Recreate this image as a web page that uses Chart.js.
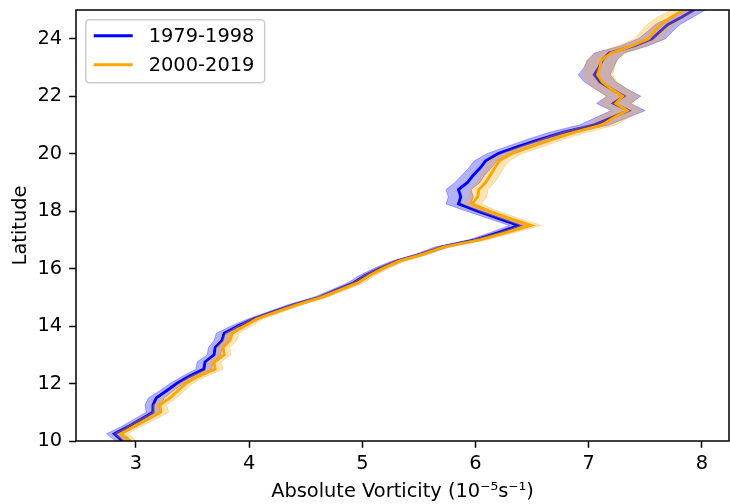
<!DOCTYPE html>
<html>
<head>
<meta charset="utf-8">
<script src="https://cdn.jsdelivr.net/npm/chart.js@4.4.1/dist/chart.umd.min.js"></script>
<style>
  html, body { margin: 0; padding: 0; background: #ffffff; }
  #wrap { width: 730px; height: 504px; }
</style>
</head>
<body>
<div id="wrap"><canvas id="c" width="730" height="504"></canvas></div>
<script>
// ---------------- data ----------------
const latitudes = [10,10.25,10.5,10.75,11,11.25,11.5,11.75,12,12.25,12.5,12.75,13,13.25,13.5,13.75,
  14,14.25,14.5,14.75,15,15.25,15.5,15.75,16,16.25,16.5,16.75,17,17.25,
  17.5,17.75,18,18.25,18.5,18.75,19,19.25,19.5,19.75,20,20.25,20.5,20.75,
  21,21.25,21.5,21.75,22,22.25,22.5,22.75,23,23.25,23.5,23.75,24,24.25,24.5,24.75,25];

const vort1979_1998 = [2.88,2.81,2.93,3.04,3.15,3.15,3.18,3.27,3.36,3.47,3.60,3.61,3.69,3.70,3.76,3.78,
  3.90,4.04,4.22,4.40,4.62,4.77,4.92,5.02,5.15,5.30,5.52,5.70,6.00,6.20,
  6.38,6.20,6.02,5.85,5.87,5.85,5.93,5.98,6.04,6.09,6.20,6.38,6.57,6.78,
  7.05,7.20,7.35,7.22,7.31,7.20,7.10,7.05,7.09,7.12,7.18,7.40,7.56,7.63,7.70,7.82,7.93];

const vort2000_2019 = [2.95,2.87,2.98,3.10,3.22,3.21,3.30,3.37,3.44,3.55,3.70,3.69,3.78,3.77,3.83,3.85,
  3.96,4.07,4.25,4.43,4.64,4.80,4.96,5.06,5.18,5.32,5.54,5.72,6.04,6.27,
  6.49,6.30,6.12,5.97,6.02,6.03,6.09,6.13,6.17,6.21,6.32,6.50,6.68,6.88,
  7.12,7.22,7.34,7.24,7.30,7.20,7.12,7.08,7.10,7.11,7.20,7.38,7.53,7.58,7.64,7.73,7.84];

// half-width of the shaded spread around each mean profile
const spread1979_1998 = [0.06,0.07,0.06,0.06,0.06,0.07,0.07,0.06,0.06,0.06,0.07,0.07,0.06,0.06,0.07,0.07,
  0.06,0.05,0.05,0.05,0.05,0.05,0.05,0.05,0.05,0.05,0.05,0.06,0.06,0.07,
  0.08,0.09,0.10,0.11,0.11,0.11,0.11,0.10,0.10,0.10,0.10,0.10,0.11,0.12,
  0.13,0.14,0.15,0.15,0.15,0.14,0.14,0.14,0.13,0.13,0.13,0.12,0.12,0.11,0.11,0.10,0.10];

const spread2000_2019 = [0.06,0.06,0.06,0.07,0.07,0.06,0.06,0.06,0.06,0.07,0.07,0.06,0.06,0.06,0.06,0.06,
  0.06,0.05,0.05,0.05,0.05,0.05,0.05,0.05,0.05,0.05,0.05,0.05,0.06,0.07,
  0.09,0.08,0.08,0.08,0.08,0.08,0.08,0.08,0.08,0.09,0.09,0.10,0.10,0.11,
  0.12,0.13,0.13,0.14,0.14,0.14,0.13,0.13,0.13,0.13,0.13,0.12,0.12,0.12,0.12,0.12,0.11];

const seriesLabels = ['1979-1998', '2000-2019'];
const xTickValues = [3, 4, 5, 6, 7, 8];
const yTickValues = [10, 12, 14, 16, 18, 20, 22, 24];
const xAxisTitle = 'Absolute Vorticity (10\u207B\u2075s\u207B\u00B9)';
const yAxisTitle = 'Latitude';

// ---------------- build datasets ----------------
function profile(vals) {
  return latitudes.map((lat, i) => ({ x: vals[i], y: lat }));
}
function bandShape(vals, spread) {
  const lo = latitudes.map((lat, i) => ({ x: vals[i] - spread[i], y: lat }));
  const hi = latitudes.map((lat, i) => ({ x: vals[i] + spread[i], y: lat })).reverse();
  return lo.concat(hi);
}

const FONT = '"DejaVu Sans", "Liberation Sans", sans-serif';
const FS = 19.4;
const BLUE = '#0000ff';
const ORANGE = '#ffa500';

const datasets = [
  { label: seriesLabels[0], data: profile(vort1979_1998), borderColor: BLUE, backgroundColor: BLUE,
    borderWidth: 2.9, showLine: true, pointRadius: 0, fill: false, order: 4, isMain: true },
  { label: seriesLabels[0] + ' spread', data: bandShape(vort1979_1998, spread1979_1998),
    borderColor: 'rgba(0,0,255,0.3)', backgroundColor: 'rgba(0,0,255,0.3)', borderWidth: 1,
    showLine: true, pointRadius: 0, fill: 'shape', order: 3 },
  { label: seriesLabels[1], data: profile(vort2000_2019), borderColor: ORANGE, backgroundColor: ORANGE,
    borderWidth: 2.9, showLine: true, pointRadius: 0, fill: false, order: 2, isMain: true },
  { label: seriesLabels[1] + ' spread', data: bandShape(vort2000_2019, spread2000_2019),
    borderColor: 'rgba(255,165,0,0.3)', backgroundColor: 'rgba(255,165,0,0.3)', borderWidth: 1,
    showLine: true, pointRadius: 0, fill: 'shape', order: 1 }
];

// frame (all four spines) + matplotlib-like legend box
const framePlugin = {
  id: 'frameAndLegend',
  afterDraw(chart) {
    const ctx = chart.ctx;
    const a = chart.chartArea;
    ctx.save();
    ctx.strokeStyle = '#000000';
    ctx.lineWidth = 1.5;
    ctx.strokeRect(a.left, a.top, a.right - a.left, a.bottom - a.top);

    // legend
    const mains = chart.data.datasets.filter(d => d.isMain);
    const bx = a.left + 9.7, by = a.top + 9.7, bw = 179, bh = 63, r = 4;
    ctx.beginPath();
    ctx.moveTo(bx + r, by);
    ctx.lineTo(bx + bw - r, by);
    ctx.quadraticCurveTo(bx + bw, by, bx + bw, by + r);
    ctx.lineTo(bx + bw, by + bh - r);
    ctx.quadraticCurveTo(bx + bw, by + bh, bx + bw - r, by + bh);
    ctx.lineTo(bx + r, by + bh);
    ctx.quadraticCurveTo(bx, by + bh, bx, by + bh - r);
    ctx.lineTo(bx, by + r);
    ctx.quadraticCurveTo(bx, by, bx + r, by);
    ctx.closePath();
    ctx.fillStyle = 'rgba(255,255,255,0.8)';
    ctx.fill();
    ctx.strokeStyle = '#cccccc';
    ctx.lineWidth = 1.5;
    ctx.stroke();

    ctx.font = FS + 'px ' + FONT;
    ctx.textBaseline = 'middle';
    ctx.textAlign = 'left';
    mains.forEach((d, i) => {
      const cy = by + 16 + i * 29;
      ctx.beginPath();
      ctx.strokeStyle = d.borderColor;
      ctx.lineWidth = 2.9;
      ctx.moveTo(bx + 8, cy);
      ctx.lineTo(bx + 47, cy);
      ctx.stroke();
      ctx.fillStyle = '#000000';
      ctx.fillText(d.label, bx + 63, cy + 1);
    });
    ctx.restore();
  }
};

const tickFont = { family: FONT, size: FS };

new Chart(document.getElementById('c'), {
  type: 'scatter',
  data: { datasets },
  options: {
    responsive: false,
    animation: false,
    events: [],
    layout: { padding: { top: 10, right: 1, left: 0, bottom: 0 } },
    plugins: {
      legend: { display: false },
      tooltip: { enabled: false }
    },
    elements: { line: { tension: 0 } },
    scales: {
      x: {
        type: 'linear',
        min: 2.47, max: 8.24,
        afterBuildTicks: s => { s.ticks = xTickValues.map(v => ({ value: v })); },
        afterFit: s => { s.height = 63; s.paddingLeft = 0; s.paddingRight = 0; },
        ticks: { font: tickFont, color: '#000000', padding: 5, maxRotation: 0 },
        grid: { drawOnChartArea: false, drawTicks: true, tickLength: 6.8, tickWidth: 1.5, tickColor: '#000000' },
        border: { display: false },
        title: { display: true, text: xAxisTitle, font: { family: FONT, size: FS }, color: '#000000',
                 padding: { top: 0, bottom: 0 } }
      },
      y: {
        type: 'linear',
        min: 10, max: 25,
        afterBuildTicks: s => { s.ticks = yTickValues.map(v => ({ value: v })); },
        afterFit: s => { s.width = 76; s.paddingTop = 0; s.paddingBottom = 0; },
        ticks: { font: tickFont, color: '#000000', padding: 7 },
        grid: { drawOnChartArea: false, drawTicks: true, tickLength: 6.8, tickWidth: 1.5, tickColor: '#000000' },
        border: { display: false },
        title: { display: true, text: yAxisTitle, font: { family: FONT, size: FS }, color: '#000000',
                 padding: { top: 9, bottom: 0 } }
      }
    }
  },
  plugins: [framePlugin]
});
</script>
</body>
</html>
